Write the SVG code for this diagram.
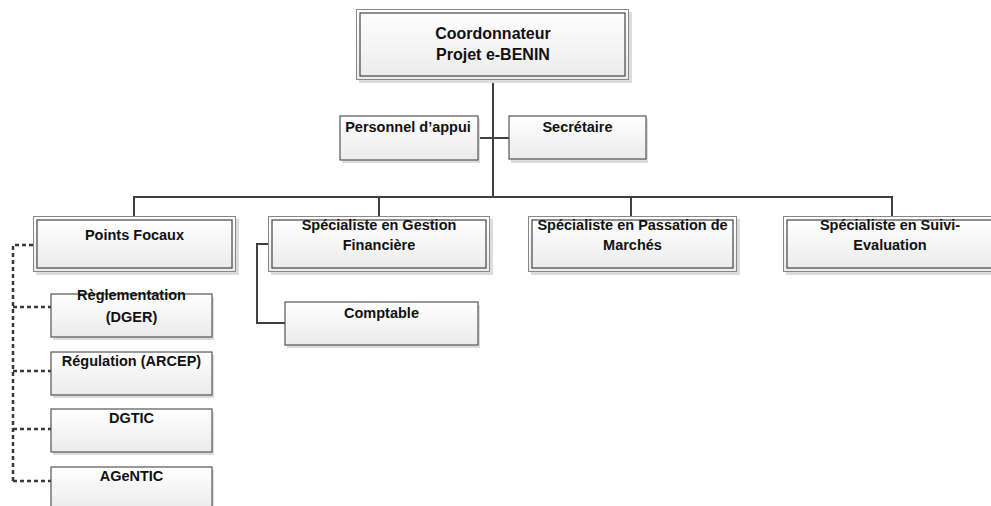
<svg xmlns="http://www.w3.org/2000/svg" width="991" height="506" viewBox="0 0 991 506">
<defs>
<linearGradient id="g" x1="0" y1="0" x2="0" y2="1">
<stop offset="0" stop-color="#ffffff"/>
<stop offset="1" stop-color="#ebebeb"/>
</linearGradient>
</defs>
<style>
.sh{fill:#dcdcdc}
.b{fill:url(#g);stroke:#555;stroke-width:1.2}
.o{fill:url(#g);stroke:#888;stroke-width:1}
.i{fill:none;stroke:#444;stroke-width:1.2}
text{font-family:"Liberation Sans",Arial,sans-serif;font-weight:bold;font-size:14.5px;fill:#111;text-anchor:middle}
.t{font-size:16px}
.c{fill:none;stroke:#404040;stroke-width:2}
.d{fill:none;stroke:#383838;stroke-width:2.5;stroke-dasharray:4 3}
</style>
<rect width="991" height="506" fill="#fff"/>
<g id="connectors">
<path class="c" d="M493 80V197"/>
<path class="c" d="M478 138H509"/>
<path class="c" d="M134 216V197H892V216"/>
<path class="c" d="M379 197V216"/>
<path class="c" d="M631 197V216"/>
<path class="c" d="M268 244H257V323H285"/>
<path class="d" d="M33 245H13V481"/>
<path class="d" d="M13 307H51M13 371H51M13 429H51M13 481H51"/>
</g>
<g id="coord">
<rect class="sh" x="359" y="12" width="273" height="71"/>
<rect class="o" x="356.5" y="9.5" width="272" height="70"/>
<rect class="i" x="360" y="13" width="265" height="63"/>
<text class="t" x="493" y="39">Coordonnateur</text>
<text class="t" x="493" y="60">Projet e-BENIN</text>
</g>
<g id="personnel">
<rect class="sh" x="342" y="119" width="138" height="44"/>
<rect class="b" x="340" y="116" width="138" height="44"/>
<text x="408" y="132">Personnel d’appui</text>
</g>
<g id="secretaire">
<rect class="sh" x="511" y="119" width="137" height="44"/>
<rect class="b" x="509" y="116" width="137" height="43"/>
<text x="577.5" y="132">Secrétaire</text>
</g>
<g id="points-focaux">
<rect class="sh" x="36" y="219" width="203" height="56"/>
<rect class="o" x="33.5" y="216.5" width="202" height="55"/>
<rect class="i" x="37" y="220" width="195" height="48"/>
<text x="134.5" y="240">Points Focaux</text>
</g>
<g id="gestion">
<rect class="sh" x="271" y="219" width="222" height="56"/>
<rect class="o" x="268.5" y="216.5" width="221" height="55"/>
<rect class="i" x="272" y="220" width="214" height="48"/>
<text x="379" y="230">Spécialiste en Gestion</text>
<text x="379" y="250">Financière</text>
</g>
<g id="passation">
<rect class="sh" x="531" y="219" width="209" height="56"/>
<rect class="o" x="528.5" y="216.5" width="208" height="55"/>
<rect class="i" x="532" y="220" width="201" height="48"/>
<text x="632.5" y="230">Spécialiste en Passation de</text>
<text x="632.5" y="250">Marchés</text>
</g>
<g id="suivi">
<rect class="sh" x="786" y="219" width="210" height="56"/>
<rect class="o" x="783.5" y="216.5" width="210" height="55"/>
<rect class="i" x="787" y="220" width="210" height="48"/>
<text x="890" y="230">Spécialiste en Suivi-</text>
<text x="890" y="250">Evaluation</text>
</g>
<g id="comptable">
<rect class="sh" x="287" y="305" width="193" height="43"/>
<rect class="b" x="285" y="302" width="193" height="43"/>
<text x="381.5" y="318">Comptable</text>
</g>
<g id="reglementation">
<rect class="sh" x="53" y="297" width="161" height="43"/>
<rect class="b" x="51" y="294" width="161" height="43"/>
<text x="131.5" y="300">Règlementation</text>
<text x="131.5" y="322">(DGER)</text>
</g>
<g id="regulation">
<rect class="sh" x="53" y="355" width="161" height="43"/>
<rect class="b" x="51" y="352" width="161" height="43"/>
<text x="131.5" y="366">Régulation (ARCEP)</text>
</g>
<g id="dgtic">
<rect class="sh" x="53" y="412" width="161" height="43"/>
<rect class="b" x="51" y="409" width="161" height="43"/>
<text x="131.5" y="423">DGTIC</text>
</g>
<g id="agentic">
<rect class="sh" x="53" y="470" width="161" height="43"/>
<rect class="b" x="51" y="467" width="161" height="43"/>
<text x="131.5" y="481">AGeNTIC</text>
</g>
</svg>
